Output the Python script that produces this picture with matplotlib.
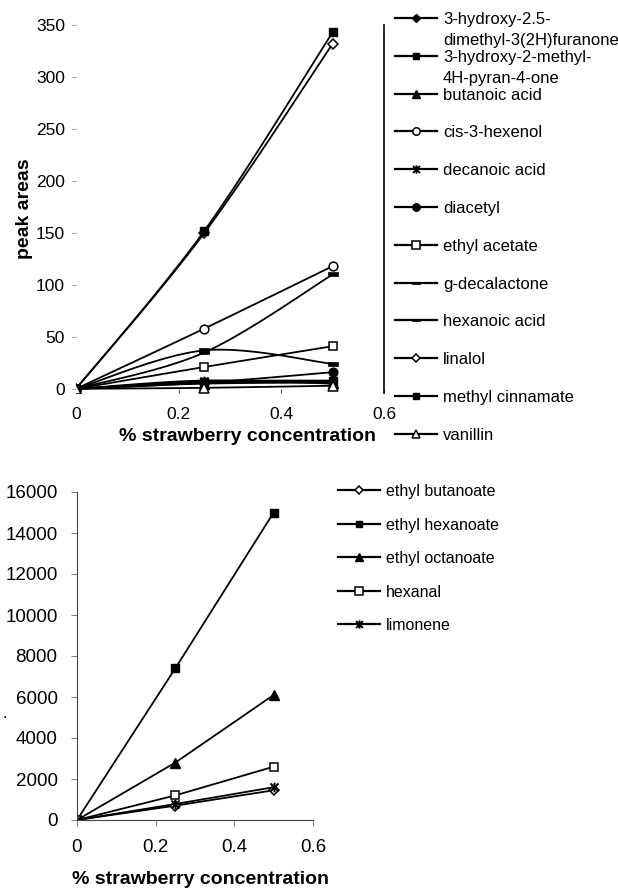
import numpy as np
import matplotlib
matplotlib.use("Agg")
import matplotlib.pyplot as plt
from matplotlib.path import Path
from matplotlib.lines import Line2D

plt.rcParams['font.family'] = ['Liberation Sans', 'DejaVu Sans']

# ---------------- data ----------------
conc = [0, 0.25, 0.5]

top_names = ["3-hydroxy-2.5-\ndimethyl-3(2H)furanone", "3-hydroxy-2-methyl-\n4H-pyran-4-one",
             "butanoic acid", "cis-3-hexenol", "decanoic acid", "diacetyl", "ethyl acetate",
             "g-decalactone", "hexanoic acid", "linalol", "methyl cinnamate", "vanillin"]
furanone = [0, 6, 7]
pyranone = [0, 7, 8]
butanoic_acid = [0, 5, 6]
cis3hexenol = [0, 58, 118]
decanoic_acid = [0, 8, 5]
diacetyl = [0, 6, 16]
ethyl_acetate = [0, 21, 41]
g_decalactone = [0, 35, 110]
hexanoic_acid = [0, 37, 24]
linalol = [0, 150, 332]
methyl_cinnamate = [0, 152, 343]
vanillin = [0, 1, 3]
top_values = [furanone, pyranone, butanoic_acid, cis3hexenol, decanoic_acid, diacetyl,
              ethyl_acetate, g_decalactone, hexanoic_acid, linalol, methyl_cinnamate, vanillin]
top_yticks = [0, 50, 100, 150, 200, 250, 300, 350]

bot_names = ["ethyl butanoate", "ethyl hexanoate", "ethyl octanoate", "hexanal", "limonene"]
ethyl_butanoate = [0, 700, 1450]
ethyl_hexanoate = [0, 7400, 15000]
ethyl_octanoate = [0, 2800, 6100]
hexanal = [0, 1200, 2600]
limonene = [0, 780, 1600]
bot_values = [ethyl_butanoate, ethyl_hexanoate, ethyl_octanoate, hexanal, limonene]
bot_yticks = [0, 2000, 4000, 6000, 8000, 10000, 12000, 14000, 16000]
xticks = [0, 0.2, 0.4, 0.6]

# ---------------- markers ----------------
star = Path([(-1, -1), (1, 1), (-1, 1), (1, -1), (0, -1.2), (0, 1.2)],
            [Path.MOVETO, Path.LINETO, Path.MOVETO, Path.LINETO, Path.MOVETO, Path.LINETO])
dash = Path([(-1, -0.35), (1, -0.35), (1, 0.35), (-1, 0.35), (-1, -0.35)],
            [Path.MOVETO, Path.LINETO, Path.LINETO, Path.LINETO, Path.CLOSEPOLY])

def mstyle(kind, scale=1.0):
    d = {
        'fD': dict(marker='D', ms=4.5, mfc='black', mec='black'),
        'fs': dict(marker='s', ms=5.5, mfc='black', mec='black'),
        'f^': dict(marker='^', ms=6.5, mfc='black', mec='black'),
        'oo': dict(marker='o', ms=6.3, mfc='white', mec='black', mew=1.1),
        'star': dict(marker=star, ms=7, mfc='none', mec='black', mew=1.4),
        'fo': dict(marker='o', ms=6.3, mfc='black', mec='black'),
        'os': dict(marker='s', ms=6, mfc='white', mec='black', mew=1.1),
        'dash': dict(marker=dash, ms=6.5, mfc='black', mec='black', mew=0.5),
        'oD': dict(marker='D', ms=5, mfc='white', mec='black', mew=1.1),
        'o^': dict(marker='^', ms=7, mfc='white', mec='black', mew=1.1),
    }[kind].copy()
    d['ms'] *= scale
    return d

top_markers = ['fD', 'fs', 'f^', 'oo', 'star', 'fo', 'os', 'dash', 'dash', 'oD', 'fs', 'o^']
bot_markers = ['oD', 'fs', 'f^', 'os', 'star']

def smooth(xs, ys, n=40):
    pts = np.column_stack([xs, ys]).astype(float)
    P = np.vstack([pts[0], pts, pts[-1]])
    out = []
    t = np.linspace(0, 1, n)[:, None]
    for i in range(1, len(P) - 2):
        p0, p1, p2, p3 = P[i - 1], P[i], P[i + 1], P[i + 2]
        c1 = p1 + (p2 - p0) / 6
        c2 = p2 - (p3 - p1) / 6
        seg = (1 - t) ** 3 * p1 + 3 * (1 - t) ** 2 * t * c1 + 3 * (1 - t) * t ** 2 * c2 + t ** 3 * p2
        out.append(seg)
    s = np.vstack(out)
    return s[:, 0], s[:, 1]

W, H = 618, 892
fig = plt.figure(figsize=(W / 100, H / 100), dpi=100)

def axrect(l, t, r, b):
    return [l / W, 1 - b / H, (r - l) / W, (b - t) / H]

# ---------------- top chart ----------------
ax1 = fig.add_axes(axrect(76, 25, 384, 393))
for vals, mk in zip(top_values, top_markers):
    sx, sy = smooth(conc, vals)
    ax1.plot(sx, sy, color='black', lw=1.3, zorder=2)
    ax1.plot(conc, vals, ls='none', zorder=3, **mstyle(mk))
ax1.set_xlim(0, 0.6)
ax1.set_ylim(-4, 350)
ax1.set_xticks(xticks)
ax1.set_xticklabels(['0', '0.2', '0.4', '0.6'])
ax1.set_yticks(top_yticks)
for s in ['top', 'left', 'bottom']:
    ax1.spines[s].set_visible(False)
ax1.spines['right'].set_linewidth(1.2)
ax1.tick_params(axis='x', direction='in', length=3, width=0.8, pad=10, labelsize=12.5, color='#555555')
ax1.tick_params(axis='y', direction='out', length=3, width=0.6, pad=5, labelsize=12.5, color='#888888')
ax1.set_ylabel('peak areas', fontsize=14, fontweight='bold')
ax1.yaxis.set_label_coords(-(76 - 33) / 308, 0.5)
ax1.set_xlabel('% strawberry concentration', fontsize=14, fontweight='bold')
ax1.xaxis.set_label_coords((247 - 76) / 308, -(428 - 393) / 368)
ax1.patch.set_alpha(0)

# ---------------- bottom chart ----------------
ax2 = fig.add_axes(axrect(77, 492, 313, 820))
for vals, mk in zip(bot_values, bot_markers):
    ax2.plot(conc, vals, color='black', lw=1.3, zorder=2, **mstyle(mk))
ax2.set_xlim(0, 0.6)
ax2.set_ylim(0, 16000)
ax2.set_xticks(xticks)
ax2.set_xticklabels(['0', '0.2', '0.4', '0.6'])
ax2.set_yticks(bot_yticks)
ax2.spines['top'].set_visible(False)
ax2.spines['right'].set_visible(False)
ax2.spines['left'].set_color('#444444')
ax2.spines['bottom'].set_color('#444444')
ax2.tick_params(axis='both', direction='out', length=4, width=0.6, labelsize=13.5, color='#666666')
ax2.tick_params(axis='x', pad=10)
ax2.tick_params(axis='y', pad=10)
ax2.set_xlabel('% strawberry concentration', fontsize=14, fontweight='bold')
ax2.xaxis.set_label_coords((200 - 77) / 236, -(871 - 820) / 328)
ax2.patch.set_alpha(0)

# ---------------- legends (figure pixel coords) ----------------
def fx(px):
    return px / W

def fy(py):
    return 1 - py / H

def legend_entry(x0, x1, xt, y, mk, label, fs):
    fig.add_artist(Line2D([fx(x0), fx(x1)], [fy(y), fy(y)], transform=fig.transFigure,
                          color='black', lw=1.6))
    fig.add_artist(Line2D([fx((x0 + x1) / 2)], [fy(y)], transform=fig.transFigure,
                          ls='none', **mstyle(mk, 0.85)))
    lines = label.split('\n')
    for k, ln in enumerate(lines):
        fig.text(fx(xt), fy(y + 21 * k), ln, fontsize=fs, va='center_baseline', ha='left')

for i, (name, mk) in enumerate(zip(top_names, top_markers)):
    legend_entry(395, 437, 443, 18 + 37.8 * i, mk, name, 12)

for i, (name, mk) in enumerate(zip(bot_names, bot_markers)):
    legend_entry(338, 380, 386, 490 + 33.6 * i, mk, name, 11.5)

fig.text(fx(2), fy(712), '.', fontsize=12, ha='left', va='center_baseline')

fig.savefig('out.png', dpi=100, facecolor='white')
